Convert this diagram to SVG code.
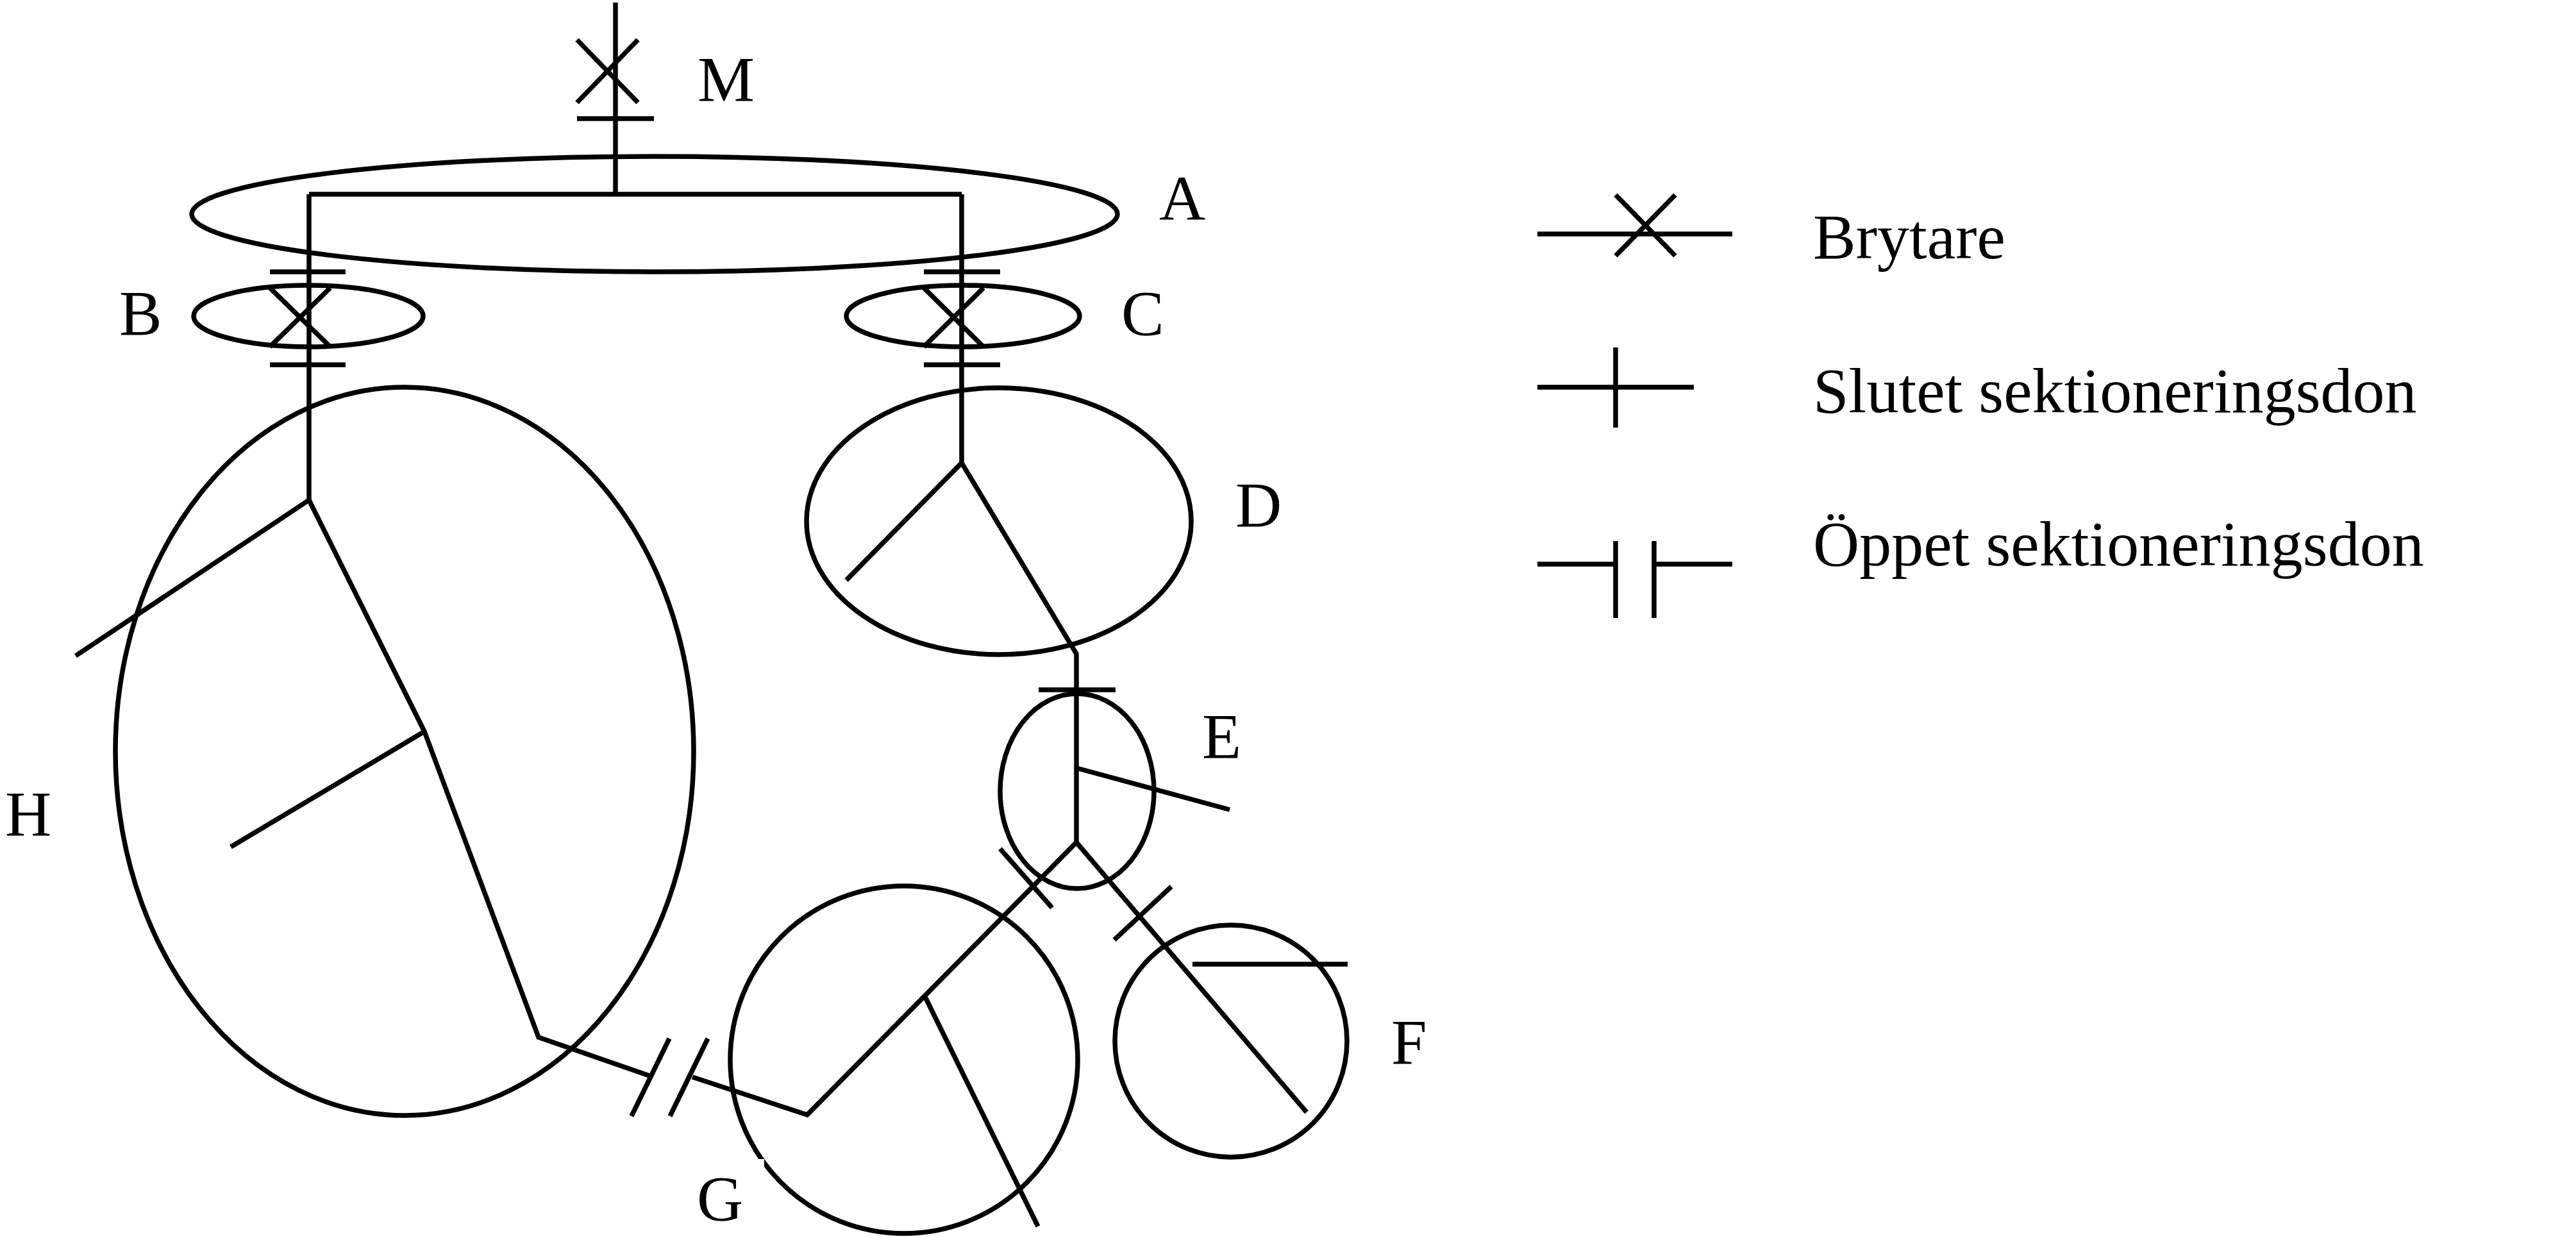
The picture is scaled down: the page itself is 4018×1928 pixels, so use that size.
<svg xmlns="http://www.w3.org/2000/svg" width="4018" height="1928" viewBox="0 0 4018 1928">
<style>
.l{fill:none;stroke:#000;stroke-width:7.5;stroke-linejoin:miter}
.e{fill:none;stroke:#000;stroke-width:7.5}
text{font-family:"Liberation Serif","Times New Roman",serif;font-size:100px;fill:#000}
</style>
<rect width="4018" height="1928" fill="#fff"/>
<g id="zones">
<g id="node-A"><ellipse class="e" cx="1021" cy="334" rx="722" ry="90"/></g>
<g id="node-B"><ellipse class="e" cx="481" cy="493" rx="179" ry="48"/></g>
<g id="node-C"><ellipse class="e" cx="1502" cy="493" rx="182" ry="48"/></g>
<g id="node-D"><ellipse class="e" cx="1558" cy="813" rx="300" ry="208"/></g>
<g id="node-E"><ellipse class="e" cx="1680" cy="1234" rx="120" ry="152"/></g>
<g id="node-F"><ellipse class="e" cx="1920" cy="1624" rx="181" ry="181"/></g>
<g id="node-G"><ellipse class="e" cx="1410" cy="1653" rx="271" ry="271"/></g>
<g id="node-H"><ellipse class="e" cx="631" cy="1172" rx="451" ry="568"/></g>
</g>
<g id="connectors">
<path class="l" d="M960 4V305M482 303H1500M482 303V780M1500 303V722"/>
<path class="l" d="M900 62L995 160M995 62L900 160M900 185H1020"/>
<path class="l" d="M421 424H539M421 569H539M421 449L515 541M515 449L421 541"/>
<path class="l" d="M1441 424H1560M1441 569H1560M1441 449L1534 541M1534 449L1441 541"/>
<path class="l" d="M118 1023L482 780L662 1141L840 1618L1013 1678M662 1141L360 1321"/>
<path class="l" d="M1044 1620L985 1741M1104 1620L1045 1741"/>
<path class="l" d="M1080 1680L1259 1739L1679 1314V1020L1500 722L1320 905"/>
<path class="l" d="M1442 1553L1619 1913M1560 1324L1641 1416"/>
<path class="l" d="M1620 1076H1740M1679 1198L1918 1263M1679 1314L2038 1735M1827 1383L1738 1466M1860 1504H2102"/>
</g>
<g id="legend">
<path class="l" d="M2398 365H2702M2520 304L2613 399M2613 304L2520 399"/>
<path class="l" d="M2398 604H2642M2520 542V667"/>
<path class="l" d="M2398 880H2520M2520 844V964M2580 844V964M2580 880H2702"/>
<text x="2828" y="403">Brytare</text>
<text x="2828" y="643">Slutet sektioneringsdon</text>
<text x="2828" y="882">Öppet sektioneringsdon</text>
</g>
<g id="labels">
<text x="1088" y="157">M</text>
<text x="1808" y="343">A</text>
<text x="186" y="522">B</text>
<text x="1749" y="522">C</text>
<text x="1927" y="821">D</text>
<text x="1875" y="1182">E</text>
<text x="2170" y="1659">F</text>
<rect x="1073" y="1808" width="119" height="108" fill="#fff"/>
<text x="1087" y="1903">G</text>
<text x="8" y="1303">H</text>
</g>
</svg>
